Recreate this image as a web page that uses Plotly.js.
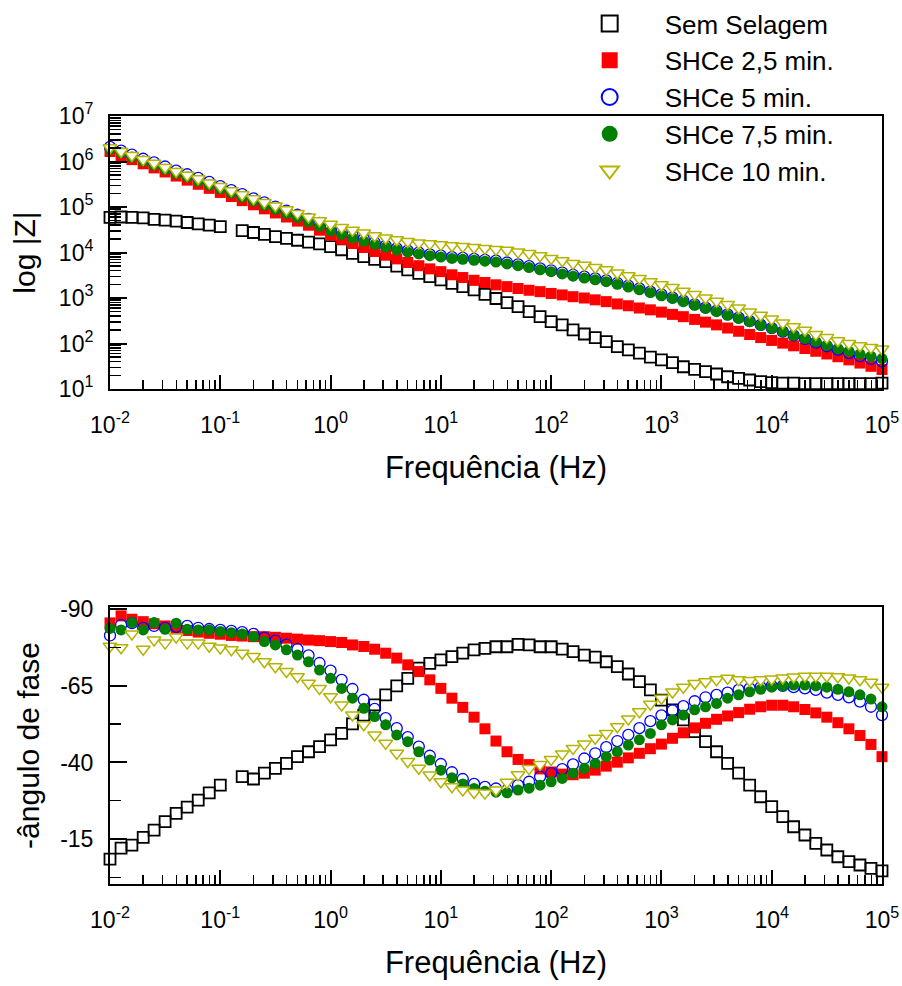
<!DOCTYPE html>
<html><head><meta charset="utf-8">
<script src="https://cdn.plot.ly/plotly-3.0.1.min.js"></script>
<style>html,body{margin:0;padding:0;background:#fff}#chart{width:902px;height:986px}</style>
</head><body><div id="chart"></div>
<script>
// Frequency (Hz)
const frequency = [0.01,0.0126,0.0158,0.02,0.0251,0.0316,0.0398,0.0501,0.0631,0.0794,
 0.1,0.126,0.158,0.2,0.251,0.316,0.398,0.501,0.631,0.794,
 1,1.26,1.58,2,2.51,3.16,3.98,5.01,6.31,7.94,
 10,12.6,15.8,20,25.1,31.6,39.8,50.1,63.1,79.4,
 100,126,158,200,251,316,398,501,631,794,
 1000,1260,1580,2000,2510,3160,3980,5010,6310,7940,
 10000,12600,15800,20000,25100,31600,39800,50100,63100,79400,100000];

// |Z| (ohm)
const zSemSelagem = [58900,60300,58900,57500,53700,51300,49000,45700,42700,39800,37200,null,30200,27500,25100,22400,20400,18600,17000,15500,13500,11500,9550,8130,7080,6310,5010,4170,3470,2950,2510,2090,1780,1510,1200,977,794,646,501,389,302,257,200,162,135,110,85.1,72.4,61.7,50.1,43.7,38.0,30.9,26.9,24.0,21.4,18.6,17.2,15.8,14.5,13.8,13.5,13.5,13.2,13.2,13.2,13.2,13.2,13.2,13.2,13.5];
const zSHCe25 = [1.66e6,1.35e6,1.10e6,8.91e5,7.24e5,5.89e5,4.79e5,3.89e5,3.16e5,2.57e5,2.09e5,1.70e5,1.38e5,1.12e5,9.12e4,7.41e4,6.03e4,4.90e4,3.98e4,3.09e4,2.40e4,1.95e4,1.58e4,1.29e4,1.05e4,8710,7240,6030,5130,4370,3800,3240,2820,2450,2190,1950,1780,1620,1480,1380,1260,1170,1070,1000,912,832,741,676,603,550,490,437,389,339,295,257,219,186,158,135,117,102,89.1,77.6,67.6,58.9,51.3,43.7,37.2,31.6,26.9];
const zSHCe5 = [2.09e6,1.74e6,1.41e6,1.15e6,9.55e5,7.76e5,6.31e5,5.25e5,4.37e5,3.55e5,2.88e5,2.34e5,1.91e5,1.55e5,1.26e5,1.02e5,8.32e4,6.76e4,5.50e4,4.47e4,3.63e4,2.95e4,2.40e4,2.00e4,1.66e4,1.41e4,1.23e4,1.10e4,1.00e4,9120,8510,7940,7590,7240,6920,6610,6030,5500,5010,4470,4070,3630,3240,2950,2690,2450,2140,1860,1620,1380,1200,1020,871,724,617,525,437,372,309,257,219,182,151,126,105,87.1,72.4,61.7,52.5,45.7,40.7];
const zSHCe75 = [1.86e6,1.55e6,1.26e6,1.02e6,8.32e5,6.76e5,5.50e5,4.57e5,3.72e5,3.02e5,2.51e5,2.04e5,1.66e5,1.35e5,1.10e5,8.91e4,7.24e4,5.89e4,4.79e4,3.80e4,3.02e4,2.51e4,2.09e4,1.78e4,1.51e4,1.32e4,1.15e4,1.02e4,9330,8510,7940,7410,7080,6760,6460,6170,5620,5130,4680,4170,3800,3390,3020,2750,2510,2290,2000,1740,1510,1320,1120,977,832,692,589,501,417,355,302,251,214,182,151,129,110,91.2,77.6,67.6,58.9,52.5,46.8];
const zSHCe10 = [2.00e6,1.66e6,1.35e6,1.10e6,9.12e5,7.41e5,6.03e5,5.01e5,4.17e5,3.39e5,2.82e5,2.29e5,1.86e5,1.51e5,1.26e5,1.05e5,8.71e4,7.24e4,6.03e4,5.01e4,4.17e4,3.55e4,3.09e4,2.69e4,2.34e4,2.09e4,1.91e4,1.74e4,1.62e4,1.55e4,1.48e4,1.41e4,1.35e4,1.29e4,1.23e4,1.17e4,1.12e4,1.02e4,9550,8510,7410,6610,5750,5250,4680,4170,3550,3090,2690,2290,1950,1700,1410,1200,1000,851,724,603,490,417,347,282,234,195,158,135,115,100,89.1,81.3,75.9];

// Phase angle (degrees)
const phSemSelagem = [-8.4,-12.0,-13.0,-15.5,-17.9,-20.7,-23.4,-25.4,-27.7,-30.1,-32.6,null,-35.4,-34.6,-36.5,-38.1,-39.7,-41.9,-43.5,-45.2,-47.4,-49.5,-52.6,-55.5,-58.8,-62.1,-65.0,-67.5,-70.8,-72.4,-73.5,-74.6,-75.7,-76.8,-77.3,-77.8,-77.8,-78.6,-78.4,-77.8,-77.8,-77.0,-76.2,-75.1,-74.4,-72.9,-71.3,-68.9,-66.4,-63.7,-60.4,-57.2,-53.9,-50.1,-46.8,-43.5,-39.7,-36.5,-32.6,-28.8,-25.6,-22.3,-19.0,-16.3,-13.6,-11.4,-9.2,-7.6,-6.5,-5.4,-4.6];
const phSHCe25 = [-85.6,-87.9,-86.8,-86.0,-85.3,-84.6,-83.8,-83.1,-82.6,-82.2,-81.9,-81.5,-81.3,-81.1,-81.1,-80.9,-80.6,-80.3,-80.0,-79.8,-79.5,-79.2,-78.4,-77.9,-77.0,-75.7,-74.1,-71.9,-69.7,-67.0,-64.2,-61.0,-58.0,-54.8,-51.0,-47.0,-43.5,-41.0,-39.3,-37.9,-36.9,-36.2,-36.0,-36.5,-37.5,-38.8,-40.1,-41.5,-43.0,-44.5,-46.0,-47.9,-49.7,-51.3,-52.8,-54.1,-55.2,-56.3,-57.4,-58.2,-58.7,-58.7,-58.2,-57.3,-56.2,-54.8,-53.0,-51.0,-48.8,-45.9,-41.9];
const phSHCe5 = [-81.5,-84.9,-85.5,-84.0,-84.6,-84.0,-84.3,-84.6,-84.0,-83.6,-83.3,-83.0,-82.6,-82.0,-80.8,-79.8,-78.5,-77.0,-75.0,-72.5,-70.0,-67.0,-64.0,-60.5,-57.5,-54.5,-51.2,-48.3,-45.2,-42.2,-39.5,-36.8,-34.6,-33.0,-32.0,-31.5,-31.0,-32.6,-33.7,-35.4,-36.5,-37.8,-39.4,-41.3,-43.0,-45.0,-47.0,-49.0,-51.2,-53.5,-55.4,-57.0,-58.4,-60.0,-61.3,-62.1,-62.8,-63.7,-64.2,-64.6,-65.0,-65.0,-64.6,-64.2,-63.7,-62.8,-62.1,-61.3,-59.9,-58.2,-55.5];
const phSHCe75 = [-83.8,-83.3,-85.7,-83.3,-85.7,-83.5,-85.5,-83.5,-83.3,-83.3,-82.8,-82.4,-82.0,-81.1,-79.5,-78.4,-76.8,-75.1,-72.9,-70.2,-67.5,-64.2,-61.0,-57.7,-55.0,-52.3,-49.0,-46.8,-43.5,-40.8,-37.5,-35.0,-33.0,-31.5,-30.6,-30.3,-30.1,-31.0,-31.6,-32.6,-33.7,-34.8,-36.5,-38.1,-39.7,-41.9,-43.5,-45.7,-47.4,-49.5,-52.3,-53.9,-55.5,-57.2,-58.2,-59.3,-61.0,-62.1,-63.1,-63.9,-64.6,-65.0,-65.3,-65.3,-65.0,-64.6,-63.9,-63.1,-62.1,-60.7,-58.2];
const phSHCe10 = [-78.0,-77.5,-82.0,-77.0,-80.0,-79.0,-81.0,-79.0,-79.0,-78.0,-77.4,-76.8,-75.7,-74.6,-72.9,-71.3,-69.7,-68.0,-65.9,-64.2,-61.5,-58.8,-55.5,-52.3,-49.0,-46.3,-43.0,-40.3,-38.1,-35.9,-33.7,-32.1,-31.0,-30.2,-30.0,-31.0,-33.5,-36.0,-38.0,-39.3,-41.0,-42.8,-44.6,-46.0,-47.9,-49.5,-51.7,-54.2,-56.6,-59.0,-61.0,-63.0,-64.6,-65.8,-66.4,-67.0,-67.5,-67.0,-66.8,-67.0,-67.3,-67.6,-67.9,-68.2,-68.2,-68.2,-68.0,-67.6,-67.0,-66.2,-64.6];

const seriesNames = ['Sem Selagem','SHCe 2,5 min.','SHCe 5 min.','SHCe 7,5 min.','SHCe 10 min.'];
const freqTickVals = [0.01,0.1,1,10,100,1000,10000,100000];
const freqTickText = ['10<sup>-2</sup>','10<sup>-1</sup>','10<sup>0</sup>','10<sup>1</sup>','10<sup>2</sup>','10<sup>3</sup>','10<sup>4</sup>','10<sup>5</sup>'];
const zTickVals = [10,100,1000,10000,100000,1000000,10000000];
const zTickText = ['10<sup>1</sup>','10<sup>2</sup>','10<sup>3</sup>','10<sup>4</sup>','10<sup>5</sup>','10<sup>6</sup>','10<sup>7</sup>'];
const phaseTickVals = [-90,-65,-40,-15];
const phaseTickText = ['-90','-65','-40','-15'];

const zSeries = [zSemSelagem, zSHCe25, zSHCe5, zSHCe75, zSHCe10];
const phSeries = [phSemSelagem, phSHCe25, phSHCe5, phSHCe75, phSHCe10];

const markerStyles = [
  {symbol:'square-open', size:11, color:'#000000', line:{color:'#000000', width:1.8}},
  {symbol:'square', size:11, color:'#ff0000', line:{width:0}},
  {symbol:'circle-open', size:11, color:'#0000ff', line:{color:'#0000ff', width:1.3}},
  {symbol:'circle', size:11, color:'#007f00', line:{width:0}},
  {symbol:'triangle-down', size:12, color:'#ffffff', line:{color:'#b3b300', width:1.5}}
];
const legendMarkerSize = 18;

const FONT = 'Liberation Sans, Arial, sans-serif';
const traces = [];
for (let i = 0; i < seriesNames.length; i++) {
  traces.push({x: frequency, y: zSeries[i], name: seriesNames[i], type:'scatter', mode:'markers',
    marker: markerStyles[i], xaxis:'x', yaxis:'y', cliponaxis:false, showlegend:false});
}
for (let i = 0; i < seriesNames.length; i++) {
  traces.push({x: frequency, y: phSeries[i], name: seriesNames[i], type:'scatter', mode:'markers',
    marker: markerStyles[i], xaxis:'x2', yaxis:'y2', cliponaxis:false, showlegend:false});
}
// legend entries (no data points, larger symbols as in the reference key)
for (let i = 0; i < seriesNames.length; i++) {
  const m = Object.assign({}, markerStyles[i], {size: legendMarkerSize});
  if (m.line) m.line = Object.assign({}, m.line, {width: (m.line.width || 0) > 0 ? 2 : 0});
  traces.push({x:[null], y:[null], name: seriesNames[i], type:'scatter', mode:'markers',
    marker: m, xaxis:'x', yaxis:'y', showlegend:true, hoverinfo:'skip'});
}

function freqAxis(anchor) {
  return {type:'log', range:[-2,5], anchor:anchor, domain:[0,1],
    showline:true, linewidth:2, linecolor:'#000', mirror:true,
    ticks:'inside', ticklen:14, tickwidth:2, tickcolor:'#000',
    tickmode:'array', tickvals:freqTickVals, ticktext:freqTickText,
    minor:{ticks:'inside', ticklen:9, tickwidth:1.5, tickcolor:'#000', dtick:'D1', showgrid:false},
    showgrid:false, zeroline:false, ticklabelstandoff:14,
    tickfont:{family:FONT, size:23, color:'#000'},
    title:{text:'Frequência (Hz)', font:{family:FONT, size:31, color:'#000'}, standoff:20}};
}

const layout = {
  width:902, height:986, paper_bgcolor:'#fff', plot_bgcolor:'#fff',
  margin:{l:110, r:20, t:116, b:102, autoexpand:false},
  font:{family:FONT, color:'#000'},
  xaxis: freqAxis('y'),
  xaxis2: freqAxis('y2'),
  yaxis: {type:'log', range:[1,7], domain:[0.6445,1], anchor:'x',
    showline:true, linewidth:2, linecolor:'#000', mirror:true,
    ticks:'inside', ticklen:17, tickwidth:2, tickcolor:'#000',
    tickmode:'array', tickvals:zTickVals, ticktext:zTickText,
    minor:{ticks:'inside', ticklen:11, tickwidth:1.5, tickcolor:'#000', dtick:'D1', showgrid:false},
    showgrid:false, zeroline:false, ticklabelstandoff:10,
    tickfont:{family:FONT, size:23, color:'#000'},
    title:{text:'log |Z|', font:{family:FONT, size:30, color:'#000'}, standoff:14}},
  yaxis2: {range:[-0.3,-90.8], domain:[0,0.3607], anchor:'x2',
    showline:true, linewidth:2, linecolor:'#000', mirror:true,
    ticks:'inside', ticklen:17, tickwidth:2, tickcolor:'#000',
    tickmode:'array', tickvals:phaseTickVals, ticktext:phaseTickText,
    minor:{ticks:'inside', ticklen:11, tickwidth:1.5, tickcolor:'#000', dtick:12.5, tick0:-90, showgrid:false},
    showgrid:false, zeroline:false, ticklabelstandoff:10,
    tickfont:{family:FONT, size:23, color:'#000'},
    title:{text:'-ângulo de fase', font:{family:FONT, size:30, color:'#000'}, standoff:12}},
  legend:{x:0.576, xanchor:'left', xref:'paper', y:1, yref:'container', yanchor:'top', bgcolor:'rgba(0,0,0,0)',
    borderwidth:0, itemwidth:100, font:{family:FONT, size:26, color:'#000'}, tracegroupgap:0},
  showlegend:true
};

Plotly.newPlot('chart', traces, layout, {displayModeBar:false, staticPlot:true});
</script></body></html>
